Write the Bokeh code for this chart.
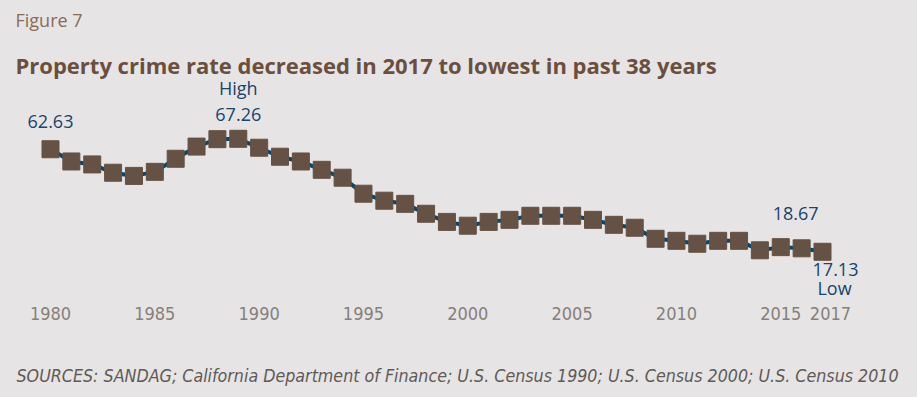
import re
from bokeh.plotting import figure
from bokeh.layouts import column
from bokeh.models import Range1d, FixedTicker, Label
from bokeh.embed import file_html
from bokeh.resources import INLINE
from bokeh.core.properties import value

# ---- data ----
years = list(range(1980, 2018))
rates = [62.63, 57.2, 55.9, 52.2, 50.8, 52.6, 58.4, 63.8, 67.1, 67.26,
         63.3, 59.3, 57.2, 53.5, 50.0, 42.9, 39.8, 38.4, 34.0, 30.4,
         28.7, 30.4, 31.3, 33.1, 33.1, 33.1, 31.3, 29.1, 27.8, 22.9,
         22.0, 20.7, 22.0, 22.0, 17.8, 19.2, 18.67, 17.13]
tick_years = [1980, 1985, 1990, 1995, 2000, 2005, 2010, 2015, 2017]
tick_labels = ["1980", "1985", "1990", "1995", "2000", "2005", "2010", "2015", "2017"]

fig_label = "Figure 7"
title_text = "Property crime rate decreased in 2017 to lowest in past 38 years"
source_text = ("SOURCES: SANDAG; California Department of Finance; U.S. Census 1990; "
               "U.S. Census 2000; U.S. Census 2010")

# ---- styling ----
BG = "#e6e4e4"
MARKER = "#655244"
LINE = "#07476e"
LABEL_BLUE = "#17456d"
TICK_GREY = "#85807c"
SRC_GREY = "#5f5a57"
TITLE_BROWN = "#6b4f3e"
FIG_BROWN = "#8a6b57"
COND = "DejaVu Sans Condensed"

W = 917
MAIN_H = 345
FOOT_H = 52
BOTTOM = 45
FRAME_H = MAIN_H - BOTTOM

p = figure(width=W, height=MAIN_H, output_backend="svg", toolbar_location=None,
           x_range=Range1d(1977.604, 2021.553), y_range=Range1d(-4.48, 128.62),
           y_axis_location=None, min_border_left=0, min_border_right=0,
           min_border_top=0, min_border_bottom=BOTTOM,
           background_fill_color=BG, border_fill_color=BG, outline_line_color=None)
p.grid.visible = False

p.line(years, rates, line_color=LINE, line_width=4)
p.scatter(years, rates, marker="square", size=17, fill_color=MARKER, line_color=MARKER)

# axis
tick_pos = [float(t) for t in tick_years[:-1]] + [tick_years[-1] + 0.38]
p.xaxis.ticker = FixedTicker(ticks=tick_pos)
p.xaxis.major_label_overrides = {tp: lab for tp, lab in zip(tick_pos, tick_labels)}
p.xaxis.axis_line_color = None
p.xaxis.major_tick_line_color = None
p.xaxis.minor_tick_line_color = None
p.xaxis.major_tick_out = 0
p.xaxis.major_tick_in = 0
p.xaxis.major_label_standoff = 6
p.xaxis.major_label_text_font = COND
p.xaxis.major_label_text_font_size = "18px"
p.xaxis.major_label_text_color = TICK_GREY

# data labels
lab_font = value("Open Sans")
def add_text(x, y, txt, dx, dy):
    p.text(x=[x], y=[y], text=[txt], x_offset=dx, y_offset=dy,
           text_font=lab_font, text_font_size="18px", text_color=LABEL_BLUE,
           text_align="center", text_baseline="middle")

i80 = years.index(1980)
i89 = years.index(1989)
i16 = years.index(2016)
i17 = years.index(2017)
add_text(years[i80], rates[i80], f"{rates[i80]:.2f}", 0, -28)
add_text(years[i89], rates[i89], "High", 0, -51)
add_text(years[i89], rates[i89], f"{rates[i89]:.2f}", 0, -24.5)
add_text(years[i16], rates[i16], f"{rates[i16]:.2f}", -6, -35)
add_text(years[i17], rates[i17], f"{rates[i17]:.2f}", 13, 18)
add_text(years[i17], rates[i17], "Low", 12, 36)

# titles
p.add_layout(Label(x=15, y=FRAME_H - 19, x_units="screen", y_units="screen", text=fig_label,
                   text_font="Open Sans", text_font_size="18px", text_color=FIG_BROWN,
                   text_baseline="middle"))
p.add_layout(Label(x=15, y=FRAME_H - 64.5, x_units="screen", y_units="screen", text=title_text,
                   text_font="Open Sans", text_font_size="22px", text_font_style="bold",
                   text_color=TITLE_BROWN, text_baseline="middle"))

# footer with sources note
f = figure(width=W, height=FOOT_H, output_backend="svg", toolbar_location=None,
           x_range=Range1d(0, 1), y_range=Range1d(0, 1),
           x_axis_location=None, y_axis_location=None,
           min_border_left=0, min_border_right=0, min_border_top=0, min_border_bottom=0,
           background_fill_color=BG, border_fill_color=BG, outline_line_color=None)
f.grid.visible = False
f.add_layout(Label(x=16, y=FOOT_H - (375 - MAIN_H), x_units="screen", y_units="screen",
                   text=source_text, text_font=COND, text_font_size="17.7px",
                   text_font_style="italic", text_color=SRC_GREY, text_baseline="middle"))

layout = column(p, f, spacing=0, background=BG)
html = file_html(layout, INLINE)
html = re.sub(r"<body([^>]*)>", r'<body\1 style="background:%s;">' % BG, html, count=1)
open("out.html", "w").write(html)
